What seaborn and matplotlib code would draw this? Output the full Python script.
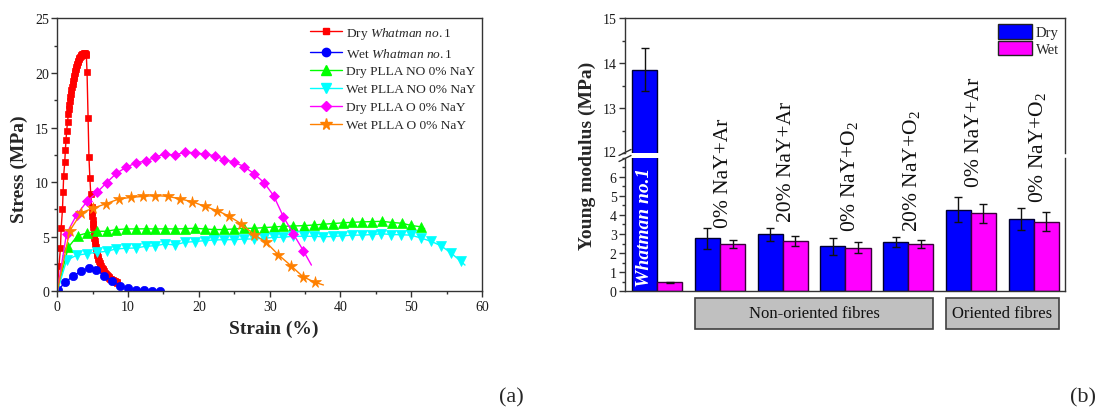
import numpy as np
import pandas as pd
import matplotlib
matplotlib.use("Agg")
import matplotlib.pyplot as plt
import seaborn as sns
from matplotlib.lines import Line2D
from matplotlib.patches import Patch, Rectangle
from matplotlib.ticker import MultipleLocator

# ---------------- data: stress-strain curves (a) ----------------
dry_whatman_x = [0.0, 0.23, 0.45, 0.55, 0.73, 0.82, 0.9, 1.05, 1.14, 1.23, 1.32, 1.45,
                 1.55, 1.62, 1.7, 1.77, 1.85, 1.92, 2.0, 2.08, 2.15, 2.22, 2.3, 2.38, 2.45,
                 2.52, 2.6, 2.68, 2.75, 2.82, 2.9, 2.98, 3.05, 3.12, 3.2, 3.28, 3.35, 3.42,
                 3.5, 3.58, 3.65, 3.72, 3.8, 3.88, 3.95, 4.02, 4.1,
                 4.2, 4.35, 4.47, 4.6, 4.72, 4.85,
                 4.9, 4.95, 5.0, 5.05, 5.1, 5.15, 5.2, 5.25, 5.3, 5.35, 5.42, 5.5, 5.57,
                 5.65, 5.72, 5.8, 5.9, 6.0, 6.1, 6.2, 6.3, 6.4, 6.5, 6.6, 6.7, 6.8, 6.9,
                 7.0, 7.12, 7.25, 7.37, 7.5, 7.62, 7.75, 7.87, 8.0, 8.12, 8.25, 8.37, 8.5]
dry_whatman_y = [0.0, 2.3, 4.0, 5.8, 7.5, 9.1, 10.6, 11.8, 12.95, 13.85, 14.7, 15.5,
                 16.2, 16.7, 17.1, 17.45, 17.8, 18.1, 18.4, 18.7, 19.0, 19.25, 19.5, 19.73, 19.95,
                 20.15, 20.35, 20.52, 20.7, 20.85, 21.0, 21.13, 21.25, 21.35, 21.45, 21.53, 21.6, 21.65,
                 21.7, 21.73, 21.75, 21.77, 21.78, 21.78, 21.77, 21.74, 21.65,
                 20.1, 15.85, 12.3, 10.4, 8.95, 7.75,
                 7.3, 6.9, 6.55, 6.2, 5.85, 5.5, 5.2, 4.9, 4.6, 4.35, 4.05, 3.8, 3.55,
                 3.35, 3.15, 2.95, 2.77, 2.6, 2.45, 2.3, 2.17, 2.05, 1.93, 1.82, 1.72, 1.62, 1.54,
                 1.46, 1.38, 1.3, 1.23, 1.17, 1.11, 1.05, 1.0, 0.95, 0.9, 0.86, 0.83, 0.8]

wet_whatman_x = [0.14, 1.13, 2.17, 3.3, 4.43, 5.5, 6.64, 7.77, 8.85, 9.98, 11.1, 12.24, 13.37, 14.5]
wet_whatman_y = [0.15, 0.82, 1.37, 1.82, 2.15, 1.98, 1.43, 0.95, 0.52, 0.28, 0.16, 0.1, 0.07, 0.07]

dry_no_x = [0.0, 1.55, 2.87, 4.24, 5.56, 6.97, 8.29, 9.7, 11.1, 12.5, 13.85, 15.26, 16.6, 18.0,
            19.4, 20.8, 22.2, 23.6, 25.0, 26.4, 27.8, 29.2, 30.6, 31.9, 33.3, 34.8, 36.2, 37.5,
            38.9, 40.3, 41.7, 43.1, 44.5, 45.9, 47.3, 48.7, 50.0, 51.4, 51.9]
dry_no_y = [0.0, 4.03, 5.1, 5.34, 5.49, 5.5, 5.65, 5.71, 5.71, 5.72, 5.71, 5.72, 5.71, 5.73,
            5.77, 5.71, 5.65, 5.66, 5.71, 5.77, 5.77, 5.83, 5.89, 5.95, 5.98, 6.01, 6.07, 6.14,
            6.2, 6.27, 6.32, 6.36, 6.38, 6.41, 6.3, 6.23, 6.03, 5.9, 5.72]

wet_no_x = [0.0, 1.32, 2.73, 4.15, 5.56, 6.97, 8.29, 9.7, 11.1, 12.5, 13.85, 15.26, 16.6, 18.0,
            19.4, 20.8, 22.2, 23.6, 25.0, 26.4, 27.8, 29.2, 30.6, 31.9, 33.3, 34.8, 36.2, 37.5,
            38.9, 40.2, 41.6, 43.1, 44.5, 45.8, 47.2, 48.6, 50.0, 51.4, 52.8, 54.2, 55.6, 57.0, 57.6]
wet_no_y = [0.0, 2.85, 3.3, 3.44, 3.57, 3.66, 3.88, 3.94, 3.97, 4.12, 4.18, 4.33, 4.24, 4.49,
            4.55, 4.64, 4.7, 4.73, 4.73, 4.79, 4.79, 4.85, 4.95, 4.95, 5.04, 5.04, 5.04, 5.0,
            5.02, 5.08, 5.14, 5.15, 5.2, 5.27, 5.2, 5.18, 5.14, 4.87, 4.58, 4.17, 3.52, 2.75, 2.4]

dry_o_x = [0.0, 1.3, 2.73, 4.24, 5.6, 6.97, 8.34, 9.7, 11.1, 12.5, 13.85, 15.26, 16.6, 18.0,
           19.45, 20.87, 22.3, 23.6, 25.0, 26.4, 27.8, 29.2, 30.55, 31.95, 33.35, 34.75, 35.9]
dry_o_y = [0.0, 5.27, 7.0, 8.27, 9.05, 9.95, 10.8, 11.35, 11.75, 11.95, 12.27, 12.6, 12.45, 12.75,
           12.68, 12.56, 12.4, 12.06, 11.82, 11.42, 10.76, 9.96, 8.77, 6.82, 5.26, 3.73, 2.4]

wet_o_x = [0.0, 1.75, 3.4, 5.1, 6.92, 8.65, 10.36, 12.13, 13.85, 15.65, 17.35, 19.1, 20.8, 22.6,
           24.3, 26.0, 27.8, 29.5, 31.2, 33.0, 34.7, 36.4, 37.6]
wet_o_y = [0.0, 5.53, 7.2, 7.62, 8.03, 8.44, 8.6, 8.69, 8.77, 8.69, 8.46, 8.2, 7.78, 7.39,
           6.87, 6.17, 5.19, 4.49, 3.36, 2.35, 1.34, 0.82, 0.58]

curve_labels = ["Dry $\\mathit{Whatman\\ no.1}$", "Wet $\\mathit{Whatman\\ no.1}$",
                "Dry PLLA NO 0% NaY", "Wet PLLA NO 0% NaY",
                "Dry PLLA O 0% NaY", "Wet PLLA O 0% NaY"]

# ---------------- data: Young modulus bars (b) ----------------
groups = ["Whatman", "NO 0% Ar", "NO 20% Ar", "NO 0% O2", "NO 20% O2", "O 0% Ar", "O 0% O2"]
dry_mod = [13.85, 2.77, 2.98, 2.36, 2.57, 4.27, 3.77]
dry_err = [0.48, 0.57, 0.36, 0.45, 0.27, 0.65, 0.58]
wet_mod = [0.47, 2.46, 2.62, 2.27, 2.46, 4.08, 3.64]
wet_err = [0.03, 0.20, 0.26, 0.29, 0.21, 0.50, 0.49]
group_labels = ["0% NaY+Ar", "20% NaY+Ar", "0% NaY+O$_2$", "20% NaY+O$_2$", "0% NaY+Ar", "0% NaY+O$_2$"]
group_boxes = ["Non-oriented fibres", "Oriented fibres"]

# ---------------- style ----------------
sns.set_style("ticks")
plt.rcParams["font.family"] = ["Liberation Serif", "DejaVu Serif"]
plt.rcParams["mathtext.fontset"] = "custom"
plt.rcParams["mathtext.rm"] = "Liberation Serif"
plt.rcParams["mathtext.it"] = "Liberation Serif:italic"
plt.rcParams["mathtext.bf"] = "Liberation Serif:bold"
plt.rcParams["axes.edgecolor"] = "#333333"
plt.rcParams["axes.linewidth"] = 1.0
plt.rcParams["xtick.color"] = "#333333"
plt.rcParams["ytick.color"] = "#333333"
plt.rcParams["xtick.labelcolor"] = "#1a1a1a"
plt.rcParams["ytick.labelcolor"] = "#1a1a1a"

W, H = 1099, 410
fig = plt.figure(figsize=(W / 100, H / 100), dpi=100)

def fx(px):
    return px / W

def fy(py):
    return 1 - py / H

# ---------------- (a) ----------------
axa = fig.add_axes([fx(57.3), fy(292.3), fx(482 - 57.3), (292.3 - 19.3) / H])
series = [
    (dry_whatman_x, dry_whatman_y, "#ff0000", "s", 5.0, list(range(1, len(dry_whatman_x)))),
    (wet_whatman_x, wet_whatman_y, "#0000ff", "o", 6.0, list(range(0, len(wet_whatman_x)))),
    (dry_no_x, dry_no_y, "#00ff00", "^", 6.5, list(range(1, len(dry_no_x) - 1))),
    (wet_no_x, wet_no_y, "#00ffff", "v", 6.5, list(range(1, len(wet_no_x) - 1))),
    (dry_o_x, dry_o_y, "#ff00ff", "D", 5.2, list(range(1, len(dry_o_x) - 1))),
    (wet_o_x, wet_o_y, "#ff8000", "*", 8.5, list(range(1, len(wet_o_x) - 1))),
]
handles = []
for (xs, ys, c, m, ms, mev), lab in zip(series, curve_labels):
    sns.lineplot(x=xs, y=ys, ax=axa, color=c, marker=m, markersize=ms, markevery=mev,
                 markeredgecolor=c, markerfacecolor=c, markeredgewidth=0.5,
                 linewidth=1.0, estimator=None, sort=False, legend=False)
    handles.append(Line2D([0], [0], color=c, marker=m, markersize=ms, markeredgecolor=c,
                          markerfacecolor=c, linewidth=1.0, label=lab))

axa.set_xlim(0, 60)
axa.set_ylim(0, 25)
axa.xaxis.set_major_locator(MultipleLocator(10))
axa.xaxis.set_minor_locator(MultipleLocator(5))
axa.yaxis.set_major_locator(MultipleLocator(5))
axa.yaxis.set_minor_locator(MultipleLocator(2.5))
axa.tick_params(which="major", direction="out", length=4, width=1, labelsize=10, pad=2)
axa.tick_params(which="minor", direction="out", length=2.2, width=1)
for s in axa.spines.values():
    s.set_visible(True)
axa.set_xlabel("")
axa.set_ylabel("")
fig.text(fx(274), fy(329), "Strain (%)", ha="center", va="center", fontsize=14, fontweight="bold")
fig.text(fx(19), fy(169), "Stress (MPa)", ha="center", va="center", fontsize=14,
         fontweight="bold", rotation=90)
axa.legend(handles=handles, loc="upper right", bbox_to_anchor=(1.0, 1.0), frameon=False,
           fontsize=9.6, handlelength=2.4, handletextpad=0.25, labelspacing=0.42,
           borderaxespad=0.2, borderpad=0.3, numpoints=1)

# ---------------- (b) ----------------
left_b, right_b = 625, 1065
axu = fig.add_axes([fx(left_b), fy(154), fx(right_b - left_b), (154 - 19.3) / H])
axl = fig.add_axes([fx(left_b), fy(292.3), fx(right_b - left_b), (292.3 - 158.6) / H])
axu.patch.set_alpha(0)
axl.patch.set_alpha(0)

df = pd.DataFrame({
    "group": groups * 2,
    "cond": ["Dry"] * len(groups) + ["Wet"] * len(groups),
    "val": dry_mod + wet_mod,
})
pal = {"Dry": "#0000ff", "Wet": "#ff00ff"}
edge = {"Dry": "#000030", "Wet": "#3a003a"}
xpos = np.arange(len(groups))
for ax in (axu, axl):
    sns.barplot(data=df, x="group", y="val", hue="cond", order=groups, hue_order=["Dry", "Wet"],
                palette=pal, saturation=1, errorbar=None, width=0.8, ax=ax, legend=False,
                linewidth=1.0, edgecolor="black")
    for p in ax.patches:
        fc = p.get_facecolor()
        p.set_edgecolor(edge["Dry"] if fc[0] < 0.5 else edge["Wet"])
    ax.errorbar(xpos - 0.2, dry_mod, yerr=dry_err, fmt="none", ecolor="#111111",
                elinewidth=1, capsize=3, capthick=1, zorder=5)
    ax.errorbar(xpos + 0.2, wet_mod, yerr=wet_err, fmt="none", ecolor="#111111",
                elinewidth=1, capsize=3, capthick=1, zorder=5)
    ax.set_xlim(-0.515, 6.5)
    ax.set_xticks([])
    ax.set_xlabel("")
    ax.set_ylabel("")
    ax.tick_params(which="major", direction="out", length=4, width=1, labelsize=10, pad=2)
    ax.tick_params(which="minor", direction="out", length=2.2, width=1)

axu.set_ylim(12, 15)
axu.yaxis.set_major_locator(MultipleLocator(1))
axu.yaxis.set_minor_locator(MultipleLocator(0.5))
axu.set_yticks([13, 14, 15])
axu.spines["bottom"].set_visible(False)
axu.spines["top"].set_visible(True)
axu.spines["right"].set_visible(True)

axl.set_ylim(0, 7)
axl.set_yticks([0, 1, 2, 3, 4, 5, 6])
axl.yaxis.set_minor_locator(MultipleLocator(0.5))
axl.spines["top"].set_visible(False)
axl.spines["right"].set_visible(True)

# "12" label at the break
fig.text(fx(617), fy(153.5), "12", ha="right", va="center", fontsize=10, color="#1a1a1a")
# break marks
for cy in (153.5, 159.5):
    fig.add_artist(Line2D([fx(619), fx(631)], [fy(cy + 3), fy(cy - 3)], color="#333333",
                          linewidth=1.0))

# labels above bars
label_y = [3.38, 3.7, 3.15, 3.15, 5.5, 4.68]
for i, (lab, ly) in enumerate(zip(group_labels, label_y), start=1):
    axl.text(i + 0.06, ly, lab, rotation=90, ha="center", va="bottom", fontsize=15.5,
             color="#111111", clip_on=False, zorder=6)
axl.text(-0.2, 0.3, "Whatman no.1", rotation=90, ha="center", va="bottom", fontsize=14,
         fontweight="bold", fontstyle="italic", color="white", zorder=6)

# group boxes below
trans = axl.get_xaxis_transform()
box_spans = [(0.6, 4.4), (4.6, 6.4)]
ybot = -(330 - 292.3) / (292.3 - 158.6)
ytop = -(299 - 292.3) / (292.3 - 158.6)
for (x0, x1), txt in zip(box_spans, group_boxes):
    axl.add_patch(Rectangle((x0, ybot), x1 - x0, ytop - ybot, transform=trans,
                            facecolor="#c0c0c0", edgecolor="#404040", linewidth=1.2,
                            clip_on=False))
    axl.text((x0 + x1) / 2, (ybot + ytop) / 2, txt, transform=trans, ha="center",
             va="center", fontsize=12, color="#111111")

fig.text(fx(587.5), fy(155.8), "Young modulus (MPa)", ha="center", va="center",
         fontsize=14, fontweight="bold", rotation=90)

leg_handles = [Patch(facecolor=pal["Dry"], edgecolor="#222222", label="Dry"),
               Patch(facecolor=pal["Wet"], edgecolor="#222222", label="Wet")]
axu.legend(handles=leg_handles, loc="upper right", frameon=False, fontsize=10.5,
           handlelength=2.3, handleheight=1.15, labelspacing=0.1, handletextpad=0.3,
           borderaxespad=0.2, borderpad=0.2)

fig.text(fx(511), fy(398), "(a)", ha="center", va="center", fontsize=16)
fig.text(fx(1083), fy(398), "(b)", ha="center", va="center", fontsize=16)

fig.savefig("out.png", dpi=100)
